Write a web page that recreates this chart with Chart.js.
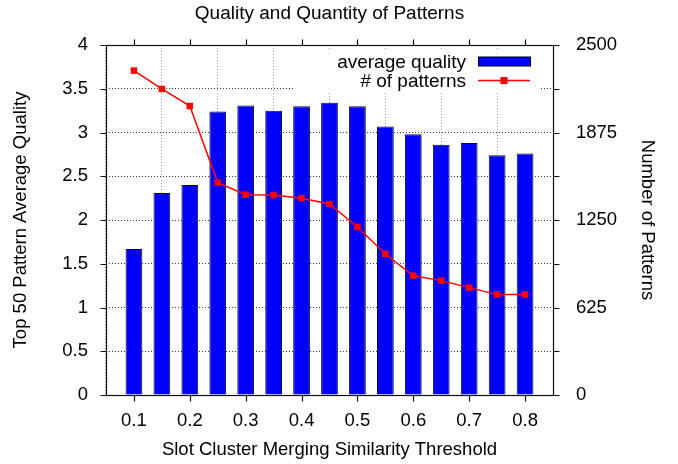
<!DOCTYPE html>
<html>
<head>
<meta charset="utf-8">
<title>Quality and Quantity of Patterns</title>
<script src="https://cdn.jsdelivr.net/npm/chart.js@4/dist/chart.umd.min.js"></script>
<style>
  html, body { margin: 0; padding: 0; background: #ffffff; }
  #wrap { width: 678px; height: 464px; }
</style>
</head>
<body>
<div id="wrap"><canvas id="chart" width="678" height="464"></canvas></div>
<script>
// Similarity thresholds used when merging slot clusters
const thresholds = [0.1, 0.15, 0.2, 0.25, 0.3, 0.35, 0.4, 0.45, 0.5, 0.55, 0.6, 0.65, 0.7, 0.75, 0.8];
// Average quality of the top 50 patterns (left axis)
const avgQuality = [1.67, 2.31, 2.40, 3.24, 3.31, 3.25, 3.30, 3.34, 3.30, 3.07, 2.98, 2.86, 2.88, 2.74, 2.76];
// Number of patterns produced (right axis)
const patternCounts = [2317, 2186, 2064, 1517, 1431, 1429, 1405, 1364, 1200, 1007, 852, 817, 767, 717, 717];

// Tick positions
const xTickValues = [0.1, 0.2, 0.3, 0.4, 0.5, 0.6, 0.7, 0.8];
const qualityTicks = [0, 0.5, 1, 1.5, 2, 2.5, 3, 3.5, 4];
const countTicks = [0, 625, 1250, 1875, 2500];

const seriesNames = ['average quality', '# of patterns'];

const FONT = '"Liberation Sans", Arial, Helvetica, sans-serif';
Chart.defaults.font.family = FONT;
Chart.defaults.color = '#000';

const barColor = '#0000ff';
const lineColor = '#ff0000';

// Frame around the plot with outward tick marks on all four sides
const framePlugin = {
  id: 'frame',
  afterDatasetsDraw(chart) {
    const { ctx, chartArea: a, scales } = chart;
    const L = Math.round(a.left) + 0.5, R = Math.round(a.right) + 0.5;
    const T = Math.round(a.top) + 0.5, B = Math.round(a.bottom) + 0.5;
    const len = 6;
    ctx.save();
    ctx.strokeStyle = '#111';
    ctx.lineWidth = 1.2;
    ctx.setLineDash([]);
    ctx.strokeRect(L, T, R - L, B - T);
    ctx.beginPath();
    scales.y.ticks.forEach(t => {
      const y = Math.round(scales.y.getPixelForValue(t.value)) + 0.5;
      ctx.moveTo(L - len, y); ctx.lineTo(L, y);
      ctx.moveTo(R, y); ctx.lineTo(R + len, y);
    });
    scales.x.ticks.forEach(t => {
      const x = Math.round(scales.x.getPixelForValue(t.value)) + 0.5;
      ctx.moveTo(x, B); ctx.lineTo(x, B + len);
      ctx.moveTo(x, T - len); ctx.lineTo(x, T);
    });
    ctx.stroke();
    ctx.restore();
  }
};

// Key in the upper right corner of the plot, on a blank patch over the grid
const keyPlugin = {
  id: 'key',
  box(chart) {
    const a = chart.chartArea;
    return { x0: a.left + 189, x1: a.right - 12, y0: a.top + 6, y1: a.top + 48 };
  },
  beforeDatasetsDraw(chart) {
    const { ctx } = chart;
    const b = this.box(chart);
    ctx.save();
    ctx.fillStyle = '#ffffff';
    ctx.fillRect(b.x0, b.y0, b.x1 - b.x0, b.y1 - b.y0);
    ctx.restore();
  },
  afterDatasetsDraw(chart) {
    const { ctx, chartArea: a } = chart;
    const textRight = a.right - 87;
    const sx0 = a.right - 75, sx1 = a.right - 23;
    const row1 = a.top + 16.5, row2 = a.top + 35.5;
    ctx.save();
    ctx.font = '19px ' + FONT;
    ctx.fillStyle = '#000';
    ctx.textAlign = 'right';
    ctx.textBaseline = 'middle';
    ctx.fillText(seriesNames[0], textRight, row1 + 1);
    ctx.fillText(seriesNames[1], textRight, row2 + 1);
    // bar sample
    ctx.fillStyle = barColor;
    ctx.fillRect(sx0 + 0.5, row1 - 4.5, sx1 - sx0, 9);
    ctx.strokeStyle = '#000';
    ctx.lineWidth = 1;
    ctx.strokeRect(sx0 + 0.5, row1 - 4.5, sx1 - sx0, 9);
    // line sample
    ctx.strokeStyle = lineColor;
    ctx.lineWidth = 1.5;
    ctx.beginPath();
    ctx.moveTo(sx0, row2); ctx.lineTo(sx1, row2);
    ctx.stroke();
    ctx.fillStyle = lineColor;
    const mx = (sx0 + sx1) / 2;
    ctx.fillRect(mx - 3.5, row2 - 3.5, 7, 7);
    ctx.restore();
  }
};

const barPoints = thresholds.map((t, i) => ({ x: t, y: avgQuality[i] }));
const linePoints = thresholds.map((t, i) => ({ x: t, y: patternCounts[i] }));

new Chart(document.getElementById('chart'), {
  type: 'bar',
  data: {
    datasets: [
      {
        label: seriesNames[0],
        data: barPoints,
        xAxisID: 'x',
        yAxisID: 'y',
        backgroundColor: barColor,
        borderColor: '#111',
        borderWidth: 1,
        categoryPercentage: 1,
        barPercentage: 0.6,
        order: 1
      },
      {
        type: 'line',
        label: seriesNames[1],
        data: linePoints,
        xAxisID: 'x',
        yAxisID: 'y2',
        borderColor: lineColor,
        borderWidth: 1.5,
        tension: 0,
        pointStyle: 'rect',
        pointRadius: 4.6,
        pointBackgroundColor: lineColor,
        pointBorderWidth: 0,
        order: 0
      }
    ]
  },
  options: {
    responsive: false,
    animation: false,
    events: [],
    layout: { padding: 0 },
    plugins: {
      legend: { display: false },
      tooltip: { enabled: false },
      title: {
        display: true,
        fullSize: false,
        text: 'Quality and Quantity of Patterns',
        color: '#000',
        font: { size: 19, weight: 'normal', family: FONT },
        padding: { top: 2, bottom: 20.2 }
      }
    },
    scales: {
      x: {
        type: 'linear',
        position: 'bottom',
        min: 0.05,
        max: 0.85,
        offset: false,
        afterBuildTicks: s => { s.ticks = xTickValues.map(v => ({ value: v })); },
        afterFit: s => { s.height = 69; },
        ticks: {
          font: { size: 18.5 },
          color: '#000',
          padding: 15,
          maxRotation: 0,
          callback: v => Number(v).toFixed(1)
        },
        grid: { color: '#9a9a9a', lineWidth: 1, drawTicks: false },
        border: { display: false, dash: [1, 2] },
        title: {
          display: true,
          text: 'Slot Cluster Merging Similarity Threshold',
          color: '#000',
          font: { size: 18.5 },
          padding: { top: 0, bottom: 3 }
        }
      },
      y: {
        type: 'linear',
        position: 'left',
        min: 0,
        max: 4,
        afterBuildTicks: s => { s.ticks = qualityTicks.map(v => ({ value: v })); },
        afterFit: s => { s.width = 106; },
        ticks: {
          font: { size: 18.5 },
          color: '#000',
          padding: 18,
          callback: v => String(v)
        },
        grid: {
          color: c => (c.tick && (c.tick.value === 0 || c.tick.value === 4)) ? 'rgba(0,0,0,0)' : '#333',
          lineWidth: 1,
          drawTicks: false
        },
        border: { display: false, dash: [1, 2] },
        title: {
          display: true,
          text: 'Top 50 Pattern Average Quality',
          color: '#000',
          font: { size: 18.5 },
          padding: { top: 10, bottom: 0 }
        }
      },
      y2: {
        type: 'linear',
        position: 'right',
        min: 0,
        max: 2500,
        afterBuildTicks: s => { s.ticks = countTicks.map(v => ({ value: v })); },
        afterFit: s => { s.width = 125; },
        ticks: {
          font: { size: 18.5 },
          color: '#000',
          padding: 23,
          callback: v => String(v)
        },
        grid: { drawOnChartArea: false, drawTicks: false },
        border: { display: false },
        title: {
          display: true,
          text: 'Number of Patterns',
          color: '#000',
          font: { size: 18.5 },
          padding: { top: 20, bottom: 0 }
        }
      }
    }
  },
  plugins: [keyPlugin, framePlugin]
});
</script>
</body>
</html>
